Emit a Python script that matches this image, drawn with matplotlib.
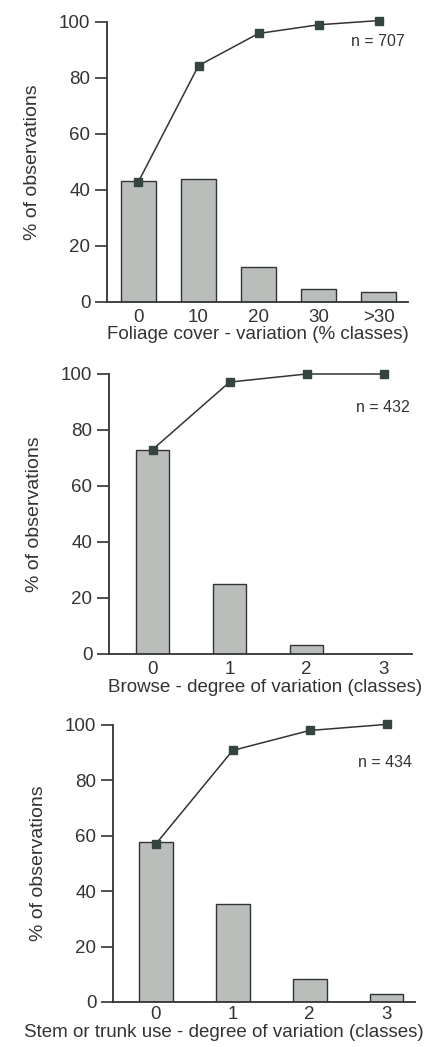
import matplotlib
matplotlib.use("Agg")
import matplotlib.pyplot as plt

plt.rcParams['font.family'] = ['Liberation Sans', 'DejaVu Sans']

# bar heights and cumulative curves
foliage_classes = ['0', '10', '20', '30', '>30']
foliage_pct = [43.3, 43.9, 12.5, 4.6, 3.4]
foliage_cum = [43.0, 84.4, 95.9, 99.0, 100.5]

browse_classes = ['0', '1', '2', '3']
browse_pct = [72.9, 25.0, 3.2, 0.0]
browse_cum = [73.0, 97.1, 100.0, 100.0]

stem_classes = ['0', '1', '2', '3']
stem_pct = [57.6, 35.2, 8.2, 2.9]
stem_cum = [57.0, 90.8, 98.0, 100.2]

panels = [
    (foliage_classes, foliage_pct, foliage_cum, 'n = 707',
     'Foliage cover - variation (% classes)'),
    (browse_classes, browse_pct, browse_cum, 'n = 432',
     'Browse - degree of variation (classes)'),
    (stem_classes, stem_pct, stem_cum, 'n = 434',
     'Stem or trunk use - degree of variation (classes)'),
]

# axes box (figure fraction), xlim, bar width, n-label pos, xlabel x (axes frac),
# xlabel pad, x tick pad
layout = [
    ([0.2426, 0.7116, 0.6825, 0.2674], (-0.525, 4.49), 0.57, (0.99, 0.929), 0.5, 0, 5),
    ([0.2472, 0.3754, 0.6871, 0.2674], (-0.565, 3.37), 0.44, (0.993, 0.882), 0.515, 1, 5),
    ([0.2562, 0.0430, 0.6848, 0.2646], (-0.556, 3.37), 0.44, (0.99, 0.864), 0.368, 0.5, 3),
]

bar_col = '#b9bebb'
ink = '#333333'

fig = plt.figure(figsize=(4.41, 10.47), dpi=100)
fig.patch.set_facecolor('white')

for (cls, pct, cum, ntxt, xlab), (box, xlim, bw, npos, lx, lpad, tpad) in zip(panels, layout):
    ax = fig.add_axes(box)
    x = list(range(len(cls)))
    ax.bar(x, pct, width=bw, color=bar_col, edgecolor=ink, linewidth=1.0, zorder=2)
    ax.plot(x, cum, color=ink, linewidth=1.1, marker='s', markersize=5.5,
            markerfacecolor='#34443e', markeredgecolor='#34443e',
            clip_on=False, zorder=3)
    ax.set_xlim(*xlim)
    ax.set_ylim(0, 100)
    ax.set_yticks([0, 20, 40, 60, 80, 100])
    ax.set_xticks(x)
    ax.set_xticklabels(cls)
    for s in ['top', 'right']:
        ax.spines[s].set_visible(False)
    for s in ['left', 'bottom']:
        ax.spines[s].set_linewidth(1.3)
        ax.spines[s].set_color(ink)
    ax.tick_params(axis='y', length=8.5, width=1.2, color=ink, pad=3.5,
                   labelsize=13.5, labelcolor=ink)
    ax.tick_params(axis='x', length=0, pad=tpad, labelsize=13.5, labelcolor=ink)
    ax.set_ylabel('% of observations', fontsize=14, color=ink, labelpad=13)
    ax.set_xlabel(xlab, fontsize=13.5, color=ink, labelpad=lpad)
    ax.xaxis.label.set_x(lx)
    ax.text(npos[0], npos[1], ntxt, transform=ax.transAxes, ha='right',
            va='center', fontsize=11.5, color=ink)

fig.savefig('out.png', dpi=100, facecolor='white')
